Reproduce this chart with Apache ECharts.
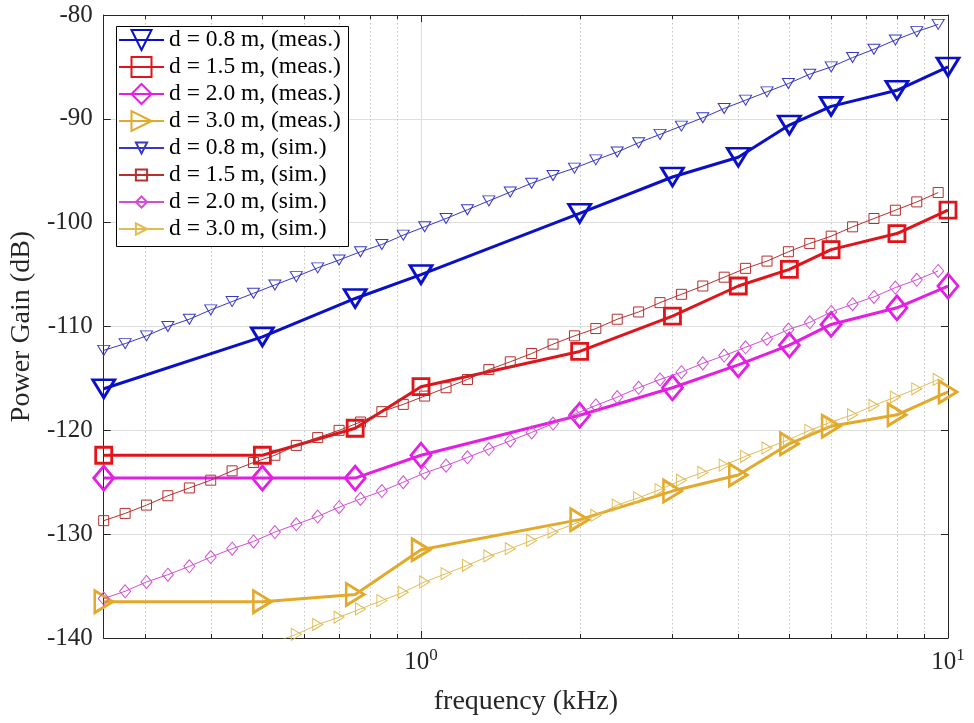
<!DOCTYPE html>
<html><head><meta charset="utf-8">
<script src="https://cdn.jsdelivr.net/npm/echarts@6/dist/echarts.min.js"></script>
<style>html,body{margin:0;padding:0;background:#fff}#c{width:974px;height:723px}</style>
</head><body><div id="c"></div>
<script>
const measFreq = [0.25, 0.5, 0.75, 1, 2, 3, 4, 5, 6, 8, 10];
const meas08 = [-116.0, -111.0, -107.3, -105.0, -99.1, -95.6, -93.7, -90.6, -88.8, -87.25, -85.0];
const meas15 = [-122.4, -122.4, -119.8, -115.8, -112.4, -109.0, -106.1, -104.5, -102.6, -101.05, -98.8];
const meas20 = [-124.6, -124.6, -124.6, -122.4, -118.55, -115.9, -113.7, -111.8, -109.8, -108.2, -106.1];
const meas30 = [-136.5, -136.5, -135.8, -131.5, -128.6, -125.85, -124.3, -121.3, -119.6, -118.5, -116.3];

const simFreq = [0.25, 0.2745, 0.3014, 0.3309, 0.3634, 0.3990, 0.4381, 0.4810, 0.5281, 0.5799,
  0.6367, 0.6991, 0.7676, 0.8428, 0.9254, 1.0161, 1.1157, 1.2250, 1.3451, 1.4769,
  1.6216, 1.7805, 1.9550, 2.1466, 2.3569, 2.5879, 2.8414, 3.1199, 3.4256, 3.7613,
  4.1300, 4.5347, 4.9791, 5.4670, 6.0028, 6.5908, 7.2368, 7.9460, 8.7247, 9.5797];
const sim08 = [-112.3, -111.65, -110.9, -110.0, -109.3, -108.4, -107.6, -106.8, -106.0, -105.2,
  -104.35, -103.6, -102.8, -102.1, -101.2, -100.4, -99.6, -98.75, -97.9, -97.05,
  -96.2, -95.45, -94.75, -93.95, -93.2, -92.3, -91.5, -90.7, -89.9, -89.0,
  -88.2, -87.4, -86.6, -85.7, -85.0, -84.1, -83.3, -82.4, -81.6, -80.9];
const sim15 = [-128.7, -128.0, -127.2, -126.3, -125.55, -124.8, -123.9, -123.1, -122.4, -121.45,
  -120.7, -120.0, -119.2, -118.2, -117.5, -116.7, -115.9, -115.1, -114.15, -113.4,
  -112.6, -111.7, -110.9, -110.2, -109.3, -108.6, -107.7, -106.9, -106.1, -105.25,
  -104.4, -103.7, -102.8, -102.0, -101.3, -100.4, -99.6, -98.8, -98.0, -97.1];
const sim20 = [-136.2, -135.5, -134.6, -133.9, -133.1, -132.2, -131.4, -130.7, -129.8, -129.05,
  -128.3, -127.4, -126.6, -125.85, -125.0, -124.1, -123.4, -122.6, -121.8, -121.0,
  -120.2, -119.35, -118.45, -117.6, -116.8, -115.9, -115.1, -114.4, -113.55, -112.8,
  -112.0, -111.2, -110.3, -109.6, -108.6, -107.85, -107.15, -106.25, -105.5, -104.65];
const sim30 = [null, null, null, null, null, null, null, null, -140.4, -139.65,
  -138.7, -138.0, -137.2, -136.4, -135.6, -134.6, -133.8, -133.0, -132.1, -131.4,
  -130.6, -129.8, -129.0, -128.2, -127.2, -126.5, -125.7, -124.8, -124.05, -123.35,
  -122.5, -121.7, -120.9, -120.0, -119.2, -118.5, -117.6, -116.8, -116.0, -115.1];

const minorFreq = [0.3, 0.4, 0.5, 0.6, 0.7, 0.8, 0.9, 2, 3, 4, 5, 6, 7, 8, 9];
const measNames = ['d = 0.8 m, (meas.)', 'd = 1.5 m, (meas.)', 'd = 2.0 m, (meas.)', 'd = 3.0 m, (meas.)'];
const simNames = ['d = 0.8 m, (sim.)', 'd = 1.5 m, (sim.)', 'd = 2.0 m, (sim.)', 'd = 3.0 m, (sim.)'];

const FONT = 'Liberation Serif';
const AX = '#262626';
const measColors = ['#0a10c8', '#e0141a', '#e41ee4', '#e3a92a'];
const simColors = ['#3838c4', '#b5302e', '#d24ed2', '#e2bb52'];
const markers = [
  {symbol: 'triangle', rot: 180},
  {symbol: 'rect', rot: 0},
  {symbol: 'diamond', rot: 0},
  {symbol: 'triangle', rot: -90}
];
const measSizes = [[22, 18], [16, 16], [20, 24], [22, 18]];
const simSizes = [[12, 10], [10, 10], [11, 13], [12, 10]];

function pairs(xs, ys) { return xs.map((x, i) => [x, ys[i]]); }

const measData = [meas08, meas15, meas20, meas30];
const simData = [sim08, sim15, sim20, sim30];

const series = [];
series.push({
  type: 'custom', name: 'minor', z: 1, silent: true, clip: false,
  data: minorFreq.map(f => [f, -140]),
  renderItem: function (params, api) {
    const x = Math.round(api.coord([api.value(0), api.value(1)])[0]) + 0.5;
    const cs = params.coordSys;
    const y0 = cs.y, y1 = cs.y + cs.height;
    return {type: 'group', children: [
      {type: 'line', shape: {x1: x, y1: y0, x2: x, y2: y1}, style: {stroke: '#c4c4c4', lineWidth: 1, lineDash: [1.5, 2.5]}},
      {type: 'line', shape: {x1: x, y1: y1, x2: x, y2: y1 - 4}, style: {stroke: AX, lineWidth: 1}},
      {type: 'line', shape: {x1: x, y1: y0, x2: x, y2: y0 + 4}, style: {stroke: AX, lineWidth: 1}}
    ]};
  }
});
for (let k = 0; k < 4; k++) {
  series.push({
    type: 'line', name: measNames[k], z: 3,
    data: pairs(measFreq, measData[k]),
    symbol: markers[k].symbol, symbolRotate: markers[k].rot, symbolSize: measSizes[k],
    lineStyle: {color: measColors[k], width: 3},
    itemStyle: {color: 'rgba(0,0,0,0)', borderColor: measColors[k], borderWidth: 2.8},
    emphasis: {disabled: true}, animation: false
  });
}
for (let k = 0; k < 4; k++) {
  series.push({
    type: 'line', name: simNames[k], z: 4,
    data: pairs(simFreq, simData[k]), connectNulls: false,
    symbol: markers[k].symbol, symbolRotate: markers[k].rot, symbolSize: simSizes[k],
    lineStyle: {color: simColors[k], width: 1},
    itemStyle: {color: 'rgba(0,0,0,0)', borderColor: simColors[k], borderWidth: 1},
    emphasis: {disabled: true}, animation: false
  });
}

function xLabel(v) {
  const e = Math.log10(v);
  if (Math.abs(e - Math.round(e)) > 1e-6) return '';
  return '{b|10}{s|' + Math.round(e) + '}';
}

const option = {
  backgroundColor: '#fff',
  animation: false,
  textStyle: {fontFamily: FONT},
  grid: {left: 103, right: 26, top: 15, bottom: 85, containLabel: false},
  xAxis: [{
    type: 'log', logBase: 10, min: 0.25, max: 10, position: 'bottom',
    name: 'frequency (kHz)', nameLocation: 'middle', nameGap: 50,
    nameTextStyle: {fontFamily: FONT, fontSize: 28, color: AX},
    axisLine: {show: true, lineStyle: {color: AX, width: 1}},
    axisTick: {show: true, inside: true, length: 7, lineStyle: {color: AX}},
    axisLabel: {
      show: true, margin: 9, formatter: xLabel, color: AX,
      rich: {b: {fontFamily: FONT, fontSize: 25, color: AX}, s: {fontFamily: FONT, fontSize: 17, color: AX, padding: [0, 0, 14, 0]}}
    },
    splitLine: {show: true, lineStyle: {color: '#dedede', width: 1}},
    minorTick: {show: false}, minorSplitLine: {show: false}
  }, {
    type: 'log', logBase: 10, min: 0.25, max: 10, position: 'top',
    axisLine: {show: true, lineStyle: {color: AX, width: 1}},
    axisTick: {show: true, inside: true, length: 7, lineStyle: {color: AX}},
    axisLabel: {show: false}, splitLine: {show: false}
  }],
  yAxis: [{
    type: 'value', min: -140, max: -80, interval: 10, position: 'left',
    name: 'Power Gain (dB)', nameLocation: 'middle', nameGap: 58, nameRotate: 90,
    nameTextStyle: {fontFamily: FONT, fontSize: 28, color: AX},
    axisLine: {show: true, lineStyle: {color: AX, width: 1}},
    axisTick: {show: true, inside: true, length: 7, lineStyle: {color: AX}},
    axisLabel: {fontFamily: FONT, fontSize: 25, color: AX, margin: 11},
    splitLine: {show: true, lineStyle: {color: '#dedede', width: 1}}
  }, {
    type: 'value', min: -140, max: -80, interval: 10, position: 'right',
    axisLine: {show: true, lineStyle: {color: AX, width: 1}},
    axisTick: {show: true, inside: true, length: 7, lineStyle: {color: AX}},
    axisLabel: {show: false}, splitLine: {show: false}
  }],
  graphic: [{
    type: 'rect', z: 3, silent: true,
    shape: {x: 116.5, y: 26.5, width: 232, height: 220},
    style: {fill: '#fff', stroke: '#000', lineWidth: 1}
  }],
  legend: [{
    data: measNames, orient: 'vertical', left: 118, top: 26.5, padding: 0,
    itemWidth: 45, itemHeight: 25, itemGap: 0, z: 5,
    textStyle: {fontFamily: FONT, fontSize: 23.5, color: '#000', lineHeight: 27},
    selectedMode: false
  }, {
    data: simNames, orient: 'vertical', left: 118, top: 134.5, padding: 0,
    itemWidth: 45, itemHeight: 14, itemGap: 0, z: 5,
    textStyle: {fontFamily: FONT, fontSize: 23.5, color: '#000', lineHeight: 27},
    selectedMode: false
  }],
  series: series
};

const chart = echarts.init(document.getElementById('c'), null, {renderer: 'canvas'});
chart.setOption(option);
</script>
</body></html>
